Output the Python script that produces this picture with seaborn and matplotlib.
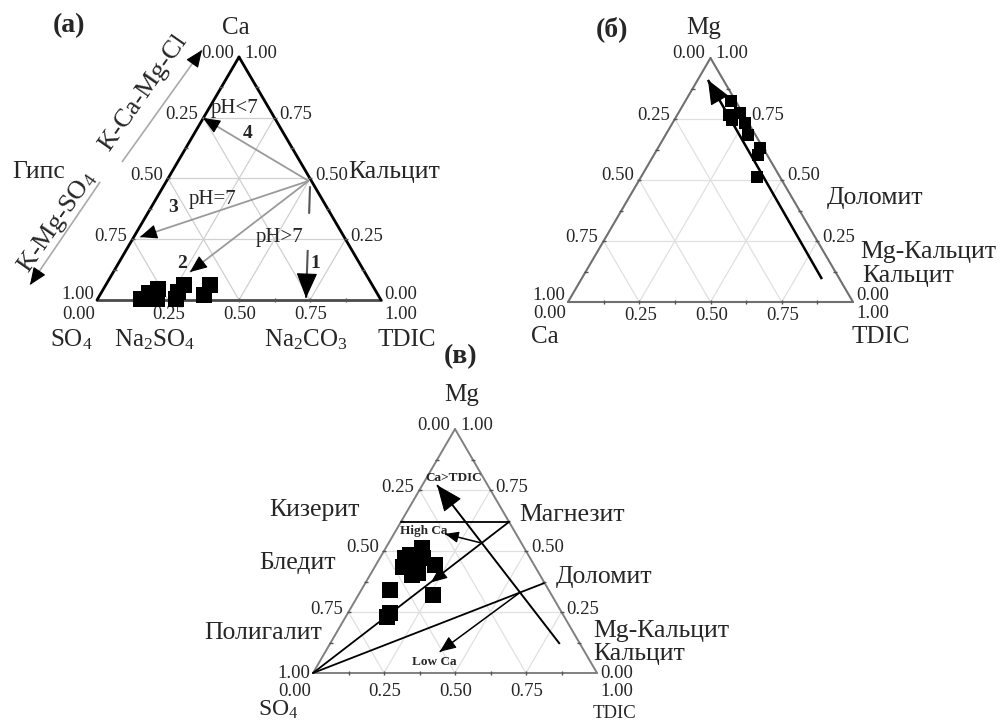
import numpy as np
import pandas as pd
import matplotlib
matplotlib.use("Agg")
import matplotlib.pyplot as plt
import seaborn as sns

# ---------------- data ----------------
# (а) Ca – SO4 – TDIC  (SO4 = 1 - Ca - TDIC)
a_ca = [0.004, 0.029, 0.045, 0.004, 0.004, 0.033, 0.062, 0.062, 0.021]
a_tdic = [0.153, 0.168, 0.192, 0.209, 0.276, 0.268, 0.275, 0.367, 0.366]

# (б) Mg – Ca – TDIC  (Ca = 1 - Mg - TDIC)
b_mg = [0.825, 0.766, 0.773, 0.732, 0.684, 0.630, 0.602, 0.511, 0.746]
b_tdic = [0.159, 0.183, 0.217, 0.255, 0.291, 0.359, 0.367, 0.406, 0.201]

# (в) Mg – SO4 – TDIC  (SO4 = 1 - Mg - TDIC)
v_mg = [0.511, 0.484, 0.470, 0.436, 0.450, 0.470, 0.443, 0.402, 0.409,
        0.340, 0.320, 0.245, 0.231]
v_tdic = [0.127, 0.100, 0.089, 0.100, 0.134, 0.153, 0.208, 0.147, 0.166,
          0.101, 0.264, 0.148, 0.144]

tick_vals = [0.0, 0.25, 0.5, 0.75, 1.0]

# ---------------- style ----------------
sns.set_theme(style="white")
plt.rcParams["font.family"] = ["Liberation Serif", "DejaVu Serif"]
plt.rcParams["mathtext.fontset"] = "custom"
plt.rcParams["mathtext.rm"] = "Liberation Serif"
plt.rcParams["mathtext.it"] = "Liberation Serif:italic"
plt.rcParams["mathtext.bf"] = "Liberation Serif:bold"

W, H = 1001, 724
fig = plt.figure(figsize=(W / 100, H / 100), dpi=100)
PX = 0.72  # points per pixel at 100 dpi

TICK_FS = 13.5
LAB_FS = 18.5
VERT_FS = 18


def tern_axes(left, right, bottom, top):
    ax = fig.add_axes([left / W, 1 - bottom / H, (right - left) / W, (bottom - top) / H])
    ax.set_xlim(0, 1)
    ax.set_ylim(0, 1)
    ax.axis("off")
    return ax


def to_xy(top, right):
    top = np.asarray(top, float)
    right = np.asarray(right, float)
    return right + top / 2, top


def lbl(ax, text, xy, dx, dy, ha):
    ax.annotate(text, xy, xytext=(dx * PX, dy * PX), textcoords="offset points",
                ha=ha, va="center", fontsize=TICK_FS, annotation_clip=False)


def frame(ax, edge_cols, edge_lw, grid_col, side_dy, bottom_dy, corner_up, corner_down):
    for f in (0.25, 0.5, 0.75):
        kw = dict(color=grid_col, lw=0.9, zorder=1, clip_on=False)
        ax.plot([f / 2, 1 - f / 2], [f, f], **kw)
        ax.plot([f, f + (1 - f) / 2], [0, 1 - f], **kw)
        ax.plot([1 - f, (1 - f) / 2], [0, 1 - f], **kw)
    for (xs, ys), c in zip((([0, 1], [0, 0]), ([0, 0.5], [0, 1]), ([1, 0.5], [0, 1])),
                           edge_cols):
        ax.plot(xs, ys, color=c, lw=edge_lw, zorder=3, clip_on=False,
                solid_capstyle="round")
    # small ticks every 0.125
    fr = np.arange(1, 8) / 8
    tk = dict(ls="none", ms=3, mew=1.0, color="#555555", zorder=4, clip_on=False)
    ax.plot(fr, np.zeros_like(fr), marker="|", **tk)
    ax.plot(fr / 2, fr, marker="_", **tk)
    ax.plot(1 - fr / 2, fr, marker="_", **tk)
    # tick labels
    for t in tick_vals:
        if t == 0:
            # bottom corners
            lbl(ax, "1.00", (0, 0), -3, corner_up, "right")
            lbl(ax, "0.00", (0, 0), -2, corner_down, "right")
            lbl(ax, "0.00", (1, 0), 3, corner_up, "left")
            lbl(ax, "1.00", (1, 0), 3, corner_down, "left")
            continue
        # left edge: fraction of the bottom-left component
        lbl(ax, f"{1 - t:.2f}", (t / 2, t), -5, side_dy, "right")
        # right edge: fraction of the apex component
        lbl(ax, f"{t:.2f}", (1 - t / 2, t), 5, side_dy, "left")
        # bottom edge: TDIC fraction
        if t < 1:
            lbl(ax, f"{t:.2f}", (t, 0), 1, bottom_dy, "center")


def head_only(ax, p0, p1, color="black", size=24, back=0.07):
    d = np.subtract(p1, p0)
    d = d / np.hypot(*d)
    tail = np.asarray(p1) - d * back
    ax.annotate("", xy=p1, xytext=tail,
                arrowprops=dict(arrowstyle="-|>,head_length=0.6,head_width=0.25",
                                color=color, lw=0.8, mutation_scale=size,
                                shrinkA=0, shrinkB=0),
                annotation_clip=False, zorder=6)


def arrow(ax, p0, p1, shaft="black", head="black", lw=1.3, size=24, back=0.07):
    ax.plot([p0[0], p1[0]], [p0[1], p1[1]], color=shaft, lw=lw, zorder=4,
            clip_on=False, solid_capstyle="butt")
    head_only(ax, p0, p1, head, size, back)


def points(ax, top, right, size):
    x, y = to_xy(top, right)
    df = pd.DataFrame({"x": x, "y": y})
    sns.scatterplot(data=df, x="x", y="y", marker="s", s=size, color="black",
                    edgecolor="black", linewidth=0, ax=ax, zorder=5, clip_on=False,
                    legend=False)
    ax.set_xlim(0, 1)
    ax.set_ylim(0, 1)
    ax.axis("off")


# ======================= (а) =======================
axa = tern_axes(97, 381, 300, 57)
frame(axa, ("#4a4a4a", "black", "black"), 2.0, "#d0d0d0",
      side_dy=3, bottom_dy=-15, corner_up=5, corner_down=-15)
points(axa, a_ca, a_tdic, 117)

g = "#9a9a9a"
origin = (0.745, 0.49)
arrow(axa, origin, (0.373, 0.749), shaft=g, size=18, back=0.06)
arrow(axa, origin, (0.151, 0.259), shaft=g, size=18, back=0.06)
arrow(axa, origin, (0.327, 0.115), shaft=g, size=18, back=0.06)
# pH>7 branch, interrupted by its label
axa.plot([0.750, 0.747], [0.465, 0.358], color="#555555", lw=1.5, clip_on=False, zorder=4)
arrow(axa, (0.742, 0.206), (0.736, 0.008), shaft="#555555", lw=1.5, size=27, back=0.08)

axa.text(0.486, 0.790, "pH<7", fontsize=15, ha="center", va="center")
axa.text(0.532, 0.687, "4", fontsize=14, fontweight="bold", ha="center", va="center")
axa.text(0.408, 0.412, "pH=7", fontsize=15, ha="center", va="center")
axa.text(0.268, 0.379, "3", fontsize=14, fontweight="bold", ha="center", va="center")
axa.text(0.644, 0.259, "pH>7", fontsize=15, ha="center", va="center")
axa.text(0.768, 0.152, "1", fontsize=14, fontweight="bold", ha="center", va="center")
axa.text(0.299, 0.152, "2", fontsize=14, fontweight="bold", ha="center", va="center")

axa.text(-0.099, 1.128, "(а)", fontsize=20, fontweight="bold", ha="center", va="center")
axa.text(0.489, 1.119, "Ca", fontsize=VERT_FS, ha="center", va="center")
axa.text(0.884, 0.527, "Кальцит", fontsize=LAB_FS, ha="left", va="center")
axa.text(-0.204, 0.527, "Гипс", fontsize=LAB_FS, ha="center", va="center")

# evolution directions along the left side
arrow(axa, (0.088, 0.568), (0.370, 1.029), shaft="#aaaaaa", lw=1.2, size=18, back=0.06)
axa.text(0.162, 0.852, "K-Ca-Mg-Cl", fontsize=19, rotation=55, ha="center",
         va="center", rotation_mode="anchor")
arrow(axa, (0.011, 0.486), (-0.236, 0.062), shaft="#aaaaaa", lw=1.2, size=18, back=0.06)
axa.text(-0.141, 0.321, "K-Mg-SO$_4$", fontsize=19, rotation=55, ha="center",
         va="center", rotation_mode="anchor")

axa.text(-0.092, -0.165, "SO$_4$", fontsize=VERT_FS, ha="center", va="center")
axa.text(0.204, -0.165, "Na$_2$SO$_4$", fontsize=VERT_FS, ha="center", va="center")
axa.text(0.736, -0.165, "Na$_2$CO$_3$", fontsize=VERT_FS, ha="center", va="center")
axa.text(1.092, -0.165, "TDIC", fontsize=VERT_FS, ha="center", va="center")

# ======================= (б) =======================
axb = tern_axes(568, 853, 302, 58)
frame(axb, ("#707070", "#707070", "#707070"), 1.5, "#e0e0e0",
      side_dy=4, bottom_dy=-14, corner_up=7, corner_down=-11)
points(axb, b_mg, b_tdic, 85)
arrow(axb, (0.891, 0.094), (0.491, 0.910), shaft="black", lw=1.8, size=26, back=0.08)

axb.text(0.154, 1.119, "(б)", fontsize=20, fontweight="bold", ha="center", va="center")
axb.text(0.477, 1.123, "Mg", fontsize=VERT_FS, ha="center", va="center")
axb.text(0.909, 0.426, "Доломит", fontsize=LAB_FS, ha="left", va="center")
axb.text(1.025, 0.205, "Mg-Кальцит", fontsize=LAB_FS, ha="left", va="center")
axb.text(1.032, 0.107, "Кальцит", fontsize=LAB_FS, ha="left", va="center")
axb.text(-0.081, -0.143, "Ca", fontsize=VERT_FS, ha="center", va="center")
axb.text(1.098, -0.143, "TDIC", fontsize=VERT_FS, ha="center", va="center")

# ======================= (в) =======================
axv = tern_axes(313, 597, 673, 429)
frame(axv, ("#808080", "#808080", "#808080"), 1.4, "#e0e0e0",
      side_dy=3, bottom_dy=-19, corner_up=0, corner_down=-19)
points(axv, v_mg, v_tdic, 117)

k = dict(color="black", lw=1.3, zorder=4, clip_on=False)
axv.plot([0.310, 0.690], [0.619, 0.619], **k)
axv.plot([0.0, 0.690], [0.0, 0.619], **k)
axv.plot([0.0, 0.813], [0.0, 0.368], **k)
head_only(axv, (0.690, 0.619), (0.415, 0.371), size=17, back=0.05)
arrow(axv, (0.869, 0.119), (0.437, 0.770), lw=1.4, size=28, back=0.09)
arrow(axv, (0.589, 0.534), (0.465, 0.570), lw=1.1, size=14, back=0.05)
arrow(axv, (0.729, 0.330), (0.446, 0.087), lw=1.1, size=17, back=0.05)

axv.text(0.496, 0.799, "Ca>TDIC", fontsize=9.5, fontweight="bold", ha="center", va="center")
axv.text(0.391, 0.582, "High Ca", fontsize=9.5, fontweight="bold", ha="center", va="center")
axv.text(0.426, 0.045, "Low Ca", fontsize=9.5, fontweight="bold", ha="center", va="center")

axv.text(0.518, 1.295, "(в)", fontsize=20, fontweight="bold", ha="center", va="center")
axv.text(0.525, 1.139, "Mg", fontsize=VERT_FS, ha="center", va="center")
axv.text(0.006, 0.668, "Кизерит", fontsize=LAB_FS, ha="center", va="center")
axv.text(-0.053, 0.451, "Бледит", fontsize=LAB_FS, ha="center", va="center")
axv.text(-0.176, 0.164, "Полигалит", fontsize=LAB_FS, ha="center", va="center")
axv.text(0.725, 0.648, "Магнезит", fontsize=LAB_FS, ha="left", va="center")
axv.text(0.856, 0.393, "Доломит", fontsize=LAB_FS, ha="left", va="center")
axv.text(0.986, 0.172, "Mg-Кальцит", fontsize=LAB_FS, ha="left", va="center")
axv.text(0.986, 0.078, "Кальцит", fontsize=LAB_FS, ha="left", va="center")
axv.text(-0.123, -0.152, "SO$_4$", fontsize=17, ha="center", va="center")
axv.text(1.063, -0.164, "TDIC", fontsize=13.5, ha="center", va="center")

fig.savefig("out.png", dpi=100, facecolor="white")
